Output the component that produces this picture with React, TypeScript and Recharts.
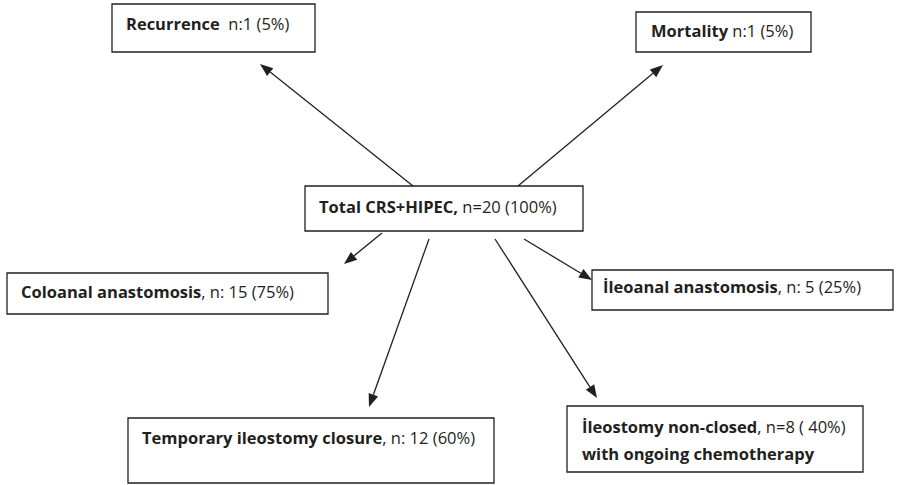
import React from "react";
import {
  ScatterChart,
  Scatter,
  XAxis,
  YAxis,
  ReferenceArea,
  ReferenceLine,
} from "recharts";

// flowchart content
const boldParts = [
  "Recurrence",
  "Mortality",
  "Total CRS+HIPEC,",
  "Coloanal anastomosis",
  "İleoanal anastomosis",
  "Temporary ileostomy closure",
  "İleostomy non-closed",
];
const countParts = [
  "  n:1 (5%)",
  " n:1 (5%)",
  " n=20 (100%)",
  ", n: 15 (75%)",
  ", n: 5 (25%)",
  ", n: 12 (60%)",
  ", n=8 ( 40%)",
];
const secondLines = ["", "", "", "", "", "", "with ongoing chemotherapy"];

// layout in diagram units (x right, y down)
const boxLeft = [112, 636, 305, 7, 592, 128, 567];
const boxRight = [315, 811, 583, 328, 893, 494, 863];
const boxTop = [4, 12, 186, 273, 270, 418, 406];
const boxBottom = [52, 52, 231, 314, 310, 483, 472];
const textX = [126, 651, 319, 21, 603, 142, 582];
const textY = [30, 37, 213, 298, 293, 444, 433];

const arrowStart = [
  [413, 186],
  [518, 186],
  [382, 233],
  [429, 239],
  [495, 239],
  [524, 239],
];
const arrowEnd = [
  [260, 64],
  [663, 65],
  [344, 264],
  [369, 407],
  [597, 398],
  [592, 280],
];

const W = 897;
const H = 485;
const FONT = "'Open Sans', sans-serif";

const labelData = boldParts.map((b, i) => ({
  x: textX[i],
  y: textY[i],
  bold: b,
  rest: countParts[i],
  line2: secondLines[i],
}));

const LabelShape = (props: any) => {
  const { cx, cy, payload } = props;
  return (
    <text
      x={cx}
      y={cy}
      fontFamily={FONT}
      fontSize={16.5}
      fill="#231f20"
      style={{ whiteSpace: "pre" }}
    >
      <tspan fontWeight={700}>{payload.bold}</tspan>
      <tspan>{payload.rest}</tspan>
      {payload.line2 ? (
        <tspan x={cx} dy={27} fontWeight={700}>
          {payload.line2}
        </tspan>
      ) : null}
    </text>
  );
};

const ArrowShape = (props: any) => {
  const { x1, y1, x2, y2 } = props;
  const dx = x2 - x1;
  const dy = y2 - y1;
  const len = Math.sqrt(dx * dx + dy * dy) || 1;
  const ux = dx / len;
  const uy = dy / len;
  const head = 13;
  const half = 5;
  const bx = x2 - ux * head;
  const by = y2 - uy * head;
  const pts = `${x2},${y2} ${bx - uy * half},${by + ux * half} ${bx + uy * half},${by - ux * half}`;
  return (
    <g>
      <line x1={x1} y1={y1} x2={bx} y2={by} stroke="#231f20" strokeWidth={1.3} />
      <polygon points={pts} fill="#231f20" />
    </g>
  );
};

export default function App() {
  return (
    <div style={{ width: W, height: H, background: "#fff" }}>
      <style>{`body{margin:0}`}</style>
      <ScatterChart
        width={W}
        height={H}
        margin={{ top: 0, right: 0, bottom: 0, left: 0 }}
      >
        <XAxis type="number" dataKey="x" domain={[0, W]} hide />
        <YAxis type="number" dataKey="y" domain={[0, H]} reversed hide />
        {boxLeft.map((l, i) => (
          <ReferenceArea
            key={"box" + i}
            x1={l}
            x2={boxRight[i]}
            y1={boxTop[i]}
            y2={boxBottom[i]}
            fill="#fff"
            fillOpacity={1}
            stroke="#231f20"
            strokeWidth={1.3}
            ifOverflow="visible"
          />
        ))}
        {arrowStart.map((s, i) => (
          <ReferenceLine
            key={"arrow" + i}
            segment={[
              { x: s[0], y: s[1] },
              { x: arrowEnd[i][0], y: arrowEnd[i][1] },
            ]}
            ifOverflow="visible"
            shape={ArrowShape}
          />
        ))}
        <Scatter
          data={labelData}
          shape={LabelShape}
          isAnimationActive={false}
        />
      </ScatterChart>
    </div>
  );
}
